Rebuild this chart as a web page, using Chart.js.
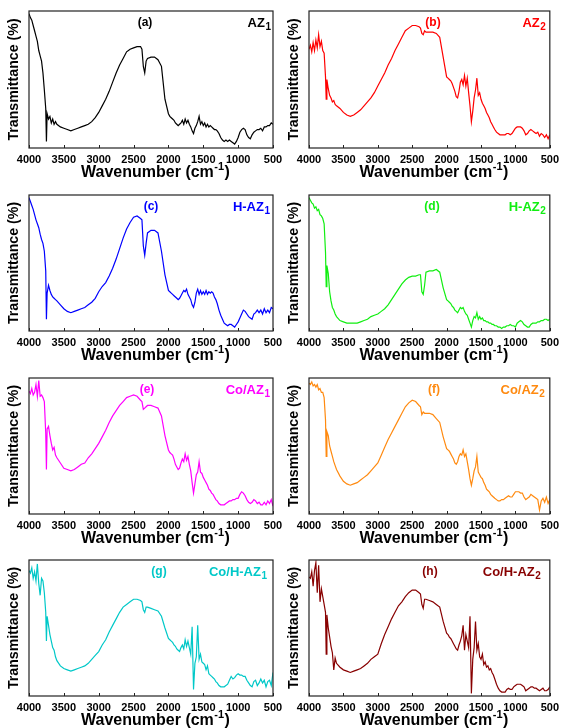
<!DOCTYPE html>
<html>
<head>
<meta charset="utf-8">
<script src="https://cdn.jsdelivr.net/npm/chart.js@4.4.1/dist/chart.umd.min.js"></script>
<style>
  html, body { margin: 0; padding: 0; background: #fff; }
  #wrap { position: relative; width: 564px; height: 728px; overflow: hidden; }
  #wrap canvas { position: absolute; }
</style>
</head>
<body>
<div id="wrap"></div>
<script>
// ─── DATA ──────────────────────────────────────────────────────────
const wavenumbers = [
  4000,3980,3960,3940,3920,3900,3880,3860,3840,3820,3800,3780,3760,3750,3740,3720,3700,3680,3660,3640,3620,3600,
  3550,3500,3450,3400,3350,3300,3250,3200,3150,3100,3050,3000,2950,2900,2850,2800,2750,2700,2650,2600,2550,2500,2450,
  2400,2380,2360,2340,2320,2300,
  2250,2200,2150,2100,2050,2000,
  1980,1960,1940,1920,1900,1880,1860,1840,1820,1800,1780,1760,1740,1720,1700,1680,1660,1640,1620,1600,1580,1560,1540,1520,1500,1480,1460,1440,1420,1400,1380,1360,1340,1320,1300,
  1275,1250,1225,1200,1175,1150,1125,1100,1075,1050,1025,1000,975,950,925,900,875,850,825,800,775,750,725,700,675,650,625,600,575,550,525,500
];
const xTicks = [4000, 3500, 3000, 2500, 2000, 1500, 1000, 500];

const az1 = [
  100,97,95,91,87,83,79,72,68,64,55,42,28,3,24,20,22,17,20,16,18,16,
  14,13,12,11,12,13,14,15,16,18,21,25,30,35,41,48,55,61,66,71,73,74,75,
  75,73,60,55,64,66,
  67,67,65,60,35,24,
  22,21,20,19,17,16,15,16,17,19,16,20,17,19,16,14,11,9,13,15,18,22,16,18,15,17,14,16,14,15,14,13,12,12,11,
  9,6,4,3,4,3,4,3,2,1,3,6,10,12,13,12,8,6,5,8,10,11,12,12,13,11,14,14,15,15,17,16
];
const az2 = [
  73,76,71,78,72,80,74,84,75,79,72,70,52,35,50,43,38,36,33,34,31,30,
  28,25,23,22,23,25,27,30,33,36,40,45,50,55,61,66,72,77,82,87,89,91,91,
  90,89,85,84,87,86,
  86,86,85,82,67,52,
  51,50,49,47,44,41,37,36,41,48,50,46,53,45,51,40,30,18,26,36,42,51,38,40,35,32,30,28,25,23,21,18,16,14,12,
  10,9,8,8,8,8,9,9,8,9,11,13,14,14,14,13,11,8,9,11,12,11,10,9,10,7,9,8,6,8,5,8
];
const hAz1 = [
  100,97,94,91,87,83,80,77,72,68,65,59,44,7,27,33,29,26,24,23,22,21,
  18,15,13,12,13,14,15,16,18,20,23,28,32,35,40,46,53,61,69,76,81,85,86,
  84,83,63,56,65,73,
  75,75,73,59,41,29,
  28,27,26,25,24,23,22,23,25,27,29,28,30,26,24,22,18,16,20,27,30,26,29,26,28,26,29,26,28,27,28,27,24,22,19,
  14,10,7,4,3,2,3,3,2,1,3,5,8,11,14,13,11,9,8,7,11,12,14,12,14,11,15,12,14,12,16,15
];
const hAz2 = [
  100,98,96,95,92,93,90,91,87,86,84,80,58,32,48,42,28,21,16,14,11,9,
  6,5,4,4,4,4,5,6,7,9,10,11,13,15,18,22,26,30,34,37,39,40,40,
  41,41,28,26,33,43,
  44,44,45,43,31,22,
  21,20,19,17,16,14,13,12,14,16,15,16,13,11,10,7,4,1,6,9,8,12,7,9,7,8,6,6,5,5,4,4,3,3,2,
  2,1,1,0,1,1,2,2,3,2,2,1,4,5,6,5,3,2,1,1,3,4,4,4,5,5,6,6,7,7,6,7
];
const coAz1 = [
  92,90,94,89,91,97,88,100,88,89,87,84,60,32,63,65,58,52,47,49,43,41,
  37,33,32,31,32,34,36,37,41,44,48,52,57,62,68,73,77,81,84,87,88,89,88,
  85,84,78,79,80,81,
  81,80,79,73,58,47,
  45,44,43,40,36,34,32,33,37,40,38,44,39,42,36,31,22,14,21,28,30,38,30,29,26,24,22,20,17,16,14,13,11,9,8,
  6,5,5,5,6,7,8,8,9,9,10,10,13,15,14,12,9,7,6,7,9,8,6,7,5,5,7,5,8,6,9,4
];
const coAz2 = [
  98,97,99,96,97,95,97,93,94,91,91,87,70,42,61,58,50,46,42,38,35,32,
  27,23,21,20,21,22,24,26,28,31,34,37,43,49,55,60,65,70,75,80,83,85,84,
  81,80,74,76,75,75,
  75,74,71,68,57,48,
  47,46,44,42,40,37,36,38,42,44,43,47,42,44,38,32,25,20,25,31,34,42,30,28,26,25,22,20,17,16,15,13,12,11,10,
  9,8,8,9,9,10,11,12,11,11,13,15,15,15,14,14,11,9,10,11,13,12,11,10,9,1,8,10,7,11,6,9
];
const coHAz1 = [
  94,92,96,88,93,86,99,84,75,88,86,77,62,40,59,52,45,40,35,33,28,25,
  21,19,18,17,18,19,20,21,23,26,29,32,37,41,47,52,57,62,66,68,70,72,72,
  71,70,64,62,66,66,
  65,64,63,59,50,42,
  41,40,39,37,36,34,33,32,35,37,34,41,36,40,35,30,51,3,23,28,52,26,30,24,23,22,18,21,15,14,13,12,11,9,8,
  6,5,5,5,6,7,10,13,11,12,14,15,14,14,13,13,10,8,6,5,9,10,6,8,11,8,10,5,9,10,6,16
];
const coHAz2 = [
  89,88,93,82,94,100,77,98,70,80,74,68,62,30,60,50,43,36,31,18,27,23,
  20,18,17,16,17,18,19,21,23,26,28,30,38,45,51,57,62,67,70,74,77,79,79,
  77,76,68,65,72,72,
  71,70,68,66,55,46,
  45,43,42,40,38,36,34,33,37,40,44,52,33,45,40,35,59,0,26,35,55,33,38,28,26,30,22,24,20,21,18,19,16,14,11,
  7,4,2,1,1,1,3,4,3,3,5,6,7,7,7,6,5,2,3,4,5,5,4,4,3,2,3,4,2,2,3,5
];

// ─── PANEL LAYOUT ─────────────────────────────────────────────────
const FONT = '"Liberation Sans", Arial, sans-serif';
const COLS = [
  { canvasX: 0,   canvasW: 292, plotL: 29,  plotR: 273, yTitleX: 14 },
  { canvasX: 282, canvasW: 282, plotL: 309, plotR: 554, yTitleX: 12 }
];
const ROWS = [
  { top: 11,  bottom: 148 },
  { top: 195, bottom: 331 },
  { top: 378, bottom: 514 },
  { top: 560, bottom: 696 }
];
const panels = [
  { values: az1,    color: '#000000', tag: '(a)', name: 'AZ',     sub: '1', col: 0, row: 0, tagX: 116, nameInset: 2 },
  { values: az2,    color: '#ff0000', tag: '(b)', name: 'AZ',     sub: '2', col: 1, row: 0, tagX: 124, nameInset: 4 },
  { values: hAz1,   color: '#0000ff', tag: '(c)', name: 'H-AZ',   sub: '1', col: 0, row: 1, tagX: 122, nameInset: 3 },
  { values: hAz2,   color: '#11ee11', tag: '(d)', name: 'H-AZ',   sub: '2', col: 1, row: 1, tagX: 123, nameInset: 4 },
  { values: coAz1,  color: '#ff00ff', tag: '(e)', name: 'Co/AZ',  sub: '1', col: 0, row: 2, tagX: 118, nameInset: 3 },
  { values: coAz2,  color: '#ff8a10', tag: '(f)', name: 'Co/AZ',  sub: '2', col: 1, row: 2, tagX: 125, nameInset: 5 },
  { values: coHAz1, color: '#00c8c8', tag: '(g)', name: 'Co/H-AZ', sub: '1', col: 0, row: 3, tagX: 130, nameInset: 6 },
  { values: coHAz2, color: '#880000', tag: '(h)', name: 'Co/H-AZ', sub: '2', col: 1, row: 3, tagX: 121, nameInset: 9 }
];

// ─── DECORATION PLUGIN ────────────────────────────────────────────
const panelDeco = {
  id: 'panelDeco',
  afterDatasetsDraw(chart, args, opts) {
    const { ctx, chartArea: a, scales } = chart;
    ctx.save();
    // frame
    ctx.strokeStyle = '#222';
    ctx.lineWidth = 1.2;
    ctx.strokeRect(a.left, a.top, a.right - a.left, a.bottom - a.top);
    // inward ticks
    ctx.lineWidth = 1;
    scales.x.ticks.forEach(t => {
      const px = Math.round(scales.x.getPixelForValue(t.value)) + 0.5;
      ctx.beginPath(); ctx.moveTo(px, a.bottom); ctx.lineTo(px, a.bottom - 3); ctx.stroke();
    });
    // y title
    ctx.fillStyle = '#000';
    ctx.font = 'bold 14.2px ' + FONT;
    ctx.textAlign = 'center';
    ctx.textBaseline = 'middle';
    ctx.translate(opts.yTitleX, (a.top + a.bottom) / 2);
    ctx.rotate(-Math.PI / 2);
    ctx.fillText('Transmittance (%)', 0, 0);
    ctx.restore();

    // x title with superscript
    ctx.save();
    ctx.fillStyle = '#000';
    ctx.textBaseline = 'middle';
    const big = 'bold 16px ' + FONT, small = 'bold 11px ' + FONT;
    const p1 = 'Wavenumber (cm', p2 = '-1', p3 = ')';
    ctx.font = big; const w1 = ctx.measureText(p1).width, w3 = ctx.measureText(p3).width;
    ctx.font = small; const w2 = ctx.measureText(p2).width;
    let x = (a.left + a.right) / 2 + 4 - (w1 + w2 + w3) / 2;
    const y = a.bottom + 25;
    ctx.textAlign = 'left';
    ctx.font = big; ctx.fillText(p1, x, y); x += w1;
    ctx.font = small; ctx.fillText(p2, x + 0.5, y - 6); x += w2 + 1;
    ctx.font = big; ctx.fillText(p3, x, y);

    // panel tag and sample name
    ctx.fillStyle = opts.color;
    ctx.font = 'bold 12px ' + FONT;
    ctx.textAlign = 'center';
    ctx.fillText(opts.tag, a.left + opts.tagX, a.top + 12);
    const nf = 'bold 13px ' + FONT, sf = 'bold 10px ' + FONT;
    ctx.font = sf; const ws = ctx.measureText(opts.sub).width;
    ctx.font = nf; const wn = ctx.measureText(opts.name).width;
    const nx = a.right - opts.nameInset - ws - wn - 0.5;
    ctx.textAlign = 'left';
    ctx.fillText(opts.name, nx, a.top + 12);
    ctx.font = sf; ctx.fillText(opts.sub, nx + wn + 0.5, a.top + 16);
    ctx.restore();
  }
};

// ─── BUILD CHARTS ─────────────────────────────────────────────────
function buildPanel(p) {
  const col = COLS[p.col], row = ROWS[p.row];
  const padTop = 11, axisH = 40;
  const canvas = document.createElement('canvas');
  const h = row.bottom - row.top + padTop + axisH;
  canvas.width = col.canvasW; canvas.height = h;
  canvas.style.width = col.canvasW + 'px'; canvas.style.height = h + 'px';
  canvas.style.left = col.canvasX + 'px'; canvas.style.top = (row.top - padTop) + 'px';
  document.getElementById('wrap').appendChild(canvas);

  const points = wavenumbers.map((w, i) => ({ x: w, y: p.values[i] }));
  return new Chart(canvas, {
    type: 'line',
    data: { datasets: [{ data: points, borderColor: p.color, borderWidth: 1.2, pointRadius: 0, tension: 0 }] },
    plugins: [panelDeco],
    options: {
      responsive: false, animation: false, events: [],
      layout: { padding: { top: padTop, bottom: 0, left: col.plotL - col.canvasX, right: col.canvasX + col.canvasW - col.plotR } },
      plugins: {
        legend: { display: false }, tooltip: { enabled: false },
        panelDeco: { color: p.color, tag: p.tag, name: p.name, sub: p.sub, tagX: p.tagX, nameInset: p.nameInset, yTitleX: col.yTitleX }
      },
      scales: {
        x: {
          type: 'linear', reverse: true, min: 500, max: 4000,
          afterBuildTicks: s => { s.ticks = xTicks.map(v => ({ value: v })); },
          afterFit: s => { s.height = axisH; },
          grid: { display: false, drawTicks: false },
          border: { display: false },
          ticks: {
            autoSkip: false, maxRotation: 0, padding: 5, color: '#000',
            font: { family: FONT, size: 11, weight: 'bold' },
            callback: v => String(v)
          }
        },
        y: { display: false, min: -2, max: 102 }
      }
    }
  });
}

panels.forEach(buildPanel);
</script>
</body>
</html>
